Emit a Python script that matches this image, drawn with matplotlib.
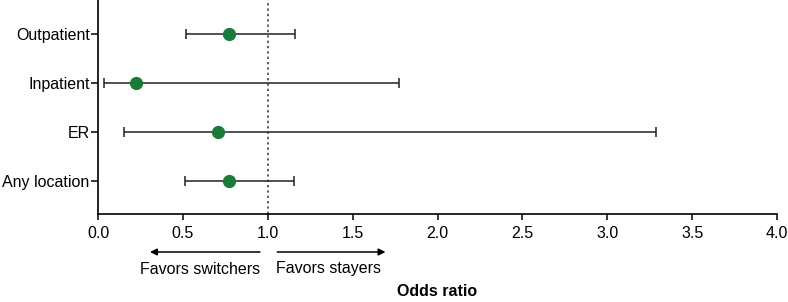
import matplotlib.pyplot as plt
import matplotlib.transforms as mtransforms

plt.rcParams['font.family'] = ['Liberation Sans', 'DejaVu Sans']

locations = ['Any location', 'ER', 'Inpatient', 'Outpatient']
odds = [0.77, 0.705, 0.226, 0.772]
ci_low = [0.513, 0.153, 0.034, 0.516]
ci_high = [1.153, 3.289, 1.773, 1.16]
xticks = [0.0, 0.5, 1.0, 1.5, 2.0, 2.5, 3.0, 3.5, 4.0]

fig = plt.figure(figsize=(7.88, 3.02), dpi=100)
ax = fig.add_axes([98 / 788, 1 - 214 / 302, 679 / 788, 214 / 302])

ypos = list(range(len(locations)))
err = [[o - l for o, l in zip(odds, ci_low)], [h - o for o, h in zip(odds, ci_high)]]
ax.errorbar(odds, ypos, xerr=err, fmt='none', ecolor='#222222', elinewidth=1.1,
            capsize=3.5, capthick=1.1, zorder=2)
ax.plot(odds, ypos, 'o', color='#1a7a3a', markersize=8.5, zorder=3)
ax.axvline(1.0, color='#333333', linestyle=(0, (1.5, 2)), linewidth=1.1, zorder=1)

ax.set_xlim(0, 4.0)
ax.set_ylim(-0.673, 3.69)
ax.set_xticks(xticks)
ax.set_xticklabels([f'{t:.1f}' for t in xticks])
ax.set_yticks(ypos)
ax.set_yticklabels(locations)
ax.tick_params(axis='both', labelsize=11.5, direction='out', width=1.1, colors='black')
ax.tick_params(axis='y', length=5, pad=1)
ax.tick_params(axis='x', length=4, pad=4.5)
for s in ['top', 'right']:
    ax.spines[s].set_visible(False)
for s in ['left', 'bottom']:
    ax.spines[s].set_linewidth(1.2)

trans = mtransforms.blended_transform_factory(ax.transData, fig.transFigure)
arrow_y = 1 - 252 / 302
ax.annotate('', xy=(0.29, arrow_y), xytext=(0.97, arrow_y), xycoords=trans, textcoords=trans,
            arrowprops=dict(arrowstyle='-|>', color='black', lw=1.1, mutation_scale=10),
            annotation_clip=False)
ax.annotate('', xy=(1.71, arrow_y), xytext=(1.04, arrow_y), xycoords=trans, textcoords=trans,
            arrowprops=dict(arrowstyle='-|>', color='black', lw=1.1, mutation_scale=10),
            annotation_clip=False)
ax.text(0.60, 1 - 269 / 302, 'Favors switchers', transform=trans, ha='center', va='center', fontsize=11.5)
ax.text(1.36, 1 - 269 / 302, 'Favors stayers', transform=trans, ha='center', va='center', fontsize=11.5)
fig.text(ax.get_position().x0 + ax.get_position().width / 2, 1 - 292 / 302, 'Odds ratio',
         ha='center', va='center', fontsize=11.5, fontweight='bold')

fig.savefig('out.png', dpi=100)
